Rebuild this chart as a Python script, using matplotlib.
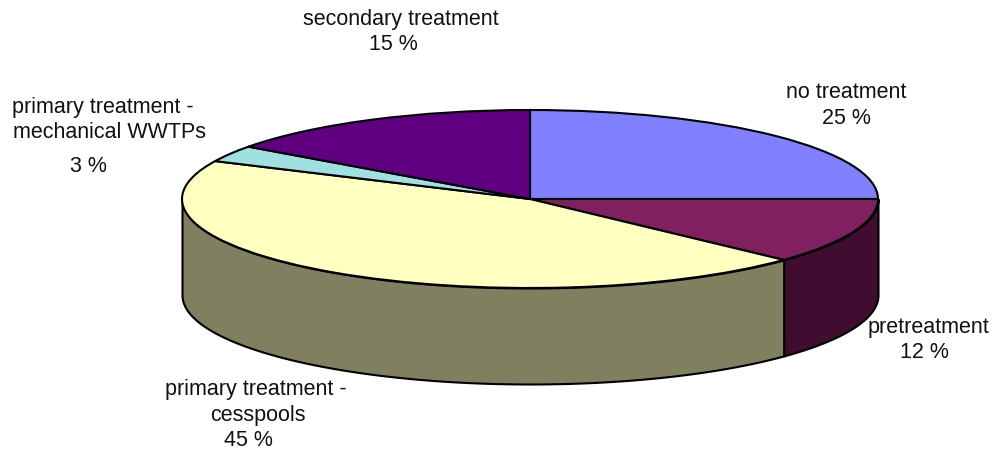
import matplotlib
matplotlib.use('Agg')
import matplotlib.pyplot as plt
import numpy as np

plt.rcParams['font.family'] = ['Liberation Sans', 'DejaVu Sans']

values = [25, 12, 45, 3, 15]
colors = ['#8080FF', '#802060', '#FFFFC0', '#A0E0E0', '#600080']
side_colors = ['#404080', '#400D30', '#808060', '#507070', '#300040']

# pixel geometry of the ellipse
W, H = 993, 450
cx, cy, rx, ry, depth = 530, 199, 348, 89, 96
FS = 15.5

fig = plt.figure(figsize=(W / 100, H / 100), dpi=100)
ax = fig.add_axes([0, 0, 1, 1])

ax.pie(values, colors=colors, startangle=90, counterclock=False,
       wedgeprops={'edgecolor': 'black', 'linewidth': 1.5, 'zorder': 3})
ax.set_aspect('auto')
ax.set_xlim(-cx / rx, (W - cx) / rx)
ax.set_ylim(-(H - cy) / ry, cy / ry)

# side wall, only the front half of the pie shows
d = depth / ry
edges = 90 - np.cumsum([0] + values) * 3.6
for i in range(len(values)):
    a1, a0 = edges[i], edges[i + 1]
    a0, a1 = max(a0, -180), min(a1, 0)
    if a1 <= a0:
        continue
    t = np.radians(np.linspace(a0, a1, 80))
    x = np.cos(t)
    y = np.sin(t)
    ax.fill_between(x, y, y - d, color=side_colors[i], ec='black', lw=1.5, zorder=1)


def px(x, y):
    return (x - cx) / rx, (cy - y) / ry


# labels line by line, the percent lines sit off centre in the original
lines = [
    ('secondary treatment', 401, 19), ('15 %', 393, 45),
    ('no treatment', 846, 92), ('25 %', 846, 118),
    ('pretreatment', 928, 327), ('12 %', 924, 353),
    ('primary treatment -', 256, 389), ('cesspools', 258, 415), ('45 %', 248, 440),
    ('primary treatment -', 103, 108), ('mechanical WWTPs', 109, 133), ('3 %', 88, 167),
]
for txt, x, y in lines:
    tx, ty = px(x, y)
    ax.text(tx, ty, txt, ha='center', va='center', fontsize=FS, color='#111111')

ax.axis('off')
fig.savefig('out.png', dpi=100)
